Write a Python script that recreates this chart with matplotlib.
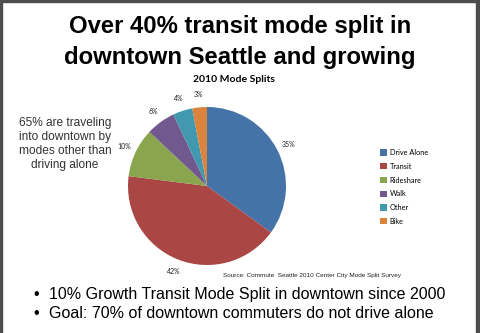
import matplotlib
matplotlib.use("Agg")
import matplotlib.pyplot as plt
from matplotlib.patches import Rectangle, Patch

modes = ["Drive Alone", "Transit", "Rideshare", "Walk", "Other", "Bike"]
shares = [35, 42, 10, 6, 4, 3]
colors = ["#4572A7", "#AA4643", "#89A54E", "#71588F", "#4198AF", "#DB843D"]

title_lines = ["Over 40% transit mode split in", "downtown Seattle and growing"]
chart_title = "2010 Mode Splits"
side_note = ["65% are traveling", "into downtown by", "modes other than", "driving alone"]
source = "Source: Commute  Seattle 2010 Center City Mode Split Survey"
bullets = ["10% Growth Transit Mode Split in downtown since 2000",
           "Goal: 70% of downtown commuters do not drive alone"]

W, H = 480, 333
fig = plt.figure(figsize=(W / 100, H / 100), dpi=100)
fig.patch.set_facecolor("white")

# slide frame (dark border on top, left, right)
frame = "#4d4d4d"
fig.patches.append(Rectangle((0, 1 - 2 / H), 1, 2 / H, transform=fig.transFigure, color=frame, zorder=10))
fig.patches.append(Rectangle((0, 0), 2 / W, 1, transform=fig.transFigure, color=frame, zorder=10))
fig.patches.append(Rectangle((1 - 4 / W, 0), 4 / W, 1, transform=fig.transFigure, color=frame, zorder=10))

arial = "Liberation Sans"
calibri = "Lato"

for i, line in enumerate(title_lines):
    fig.text(240 / W, 1 - (27 + 30.5 * i) / H, line, ha="center", va="center",
             fontsize=17.2, fontweight="bold", family=arial)
fig.text(234 / W, 1 - 80 / H, chart_title, ha="center", va="center", fontsize=7.5,
         fontweight="bold", family=calibri)

# pie
cx, cy, r = 207, 186, 79
ax = fig.add_axes([(cx - r) / W, (H - cy - r) / H, 2 * r / W, 2 * r / H])
wedges, _, pcts = ax.pie(shares, colors=colors, startangle=90, counterclock=False,
                         autopct="%d%%", pctdistance=1.16,
                         wedgeprops=dict(linewidth=0),
                         textprops=dict(fontsize=5, family=calibri, color="#222222"))
ax.set_xlim(-1, 1)
ax.set_ylim(-1, 1)
ax.set_aspect("equal")
ax.axis("off")

for i, line in enumerate(side_note):
    fig.text(65 / W, 1 - (123 + 14 * i) / H, line, ha="center", va="center",
             fontsize=8.6, family=arial, color="#333333")

handles = [Patch(facecolor=c, edgecolor="none") for c in colors]
fig.legend(handles, modes, loc="upper left", bbox_to_anchor=(380 / W, 1 - 149 / H),
           frameon=False, prop=dict(family=calibri, size=5.3),
           handlelength=0.9, handleheight=0.9, handletextpad=0.4, labelspacing=0.92,
           borderpad=0, borderaxespad=0)

fig.text(312 / W, 1 - 275 / H, source, ha="center", va="center", fontsize=4.6,
         family=arial, color="#222222")

for i, b in enumerate(bullets):
    y = 1 - (294 + 19.5 * i) / H
    fig.text(36 / W, y, "\u2022", ha="center", va="center", fontsize=11.5, family=arial)
    fig.text(49 / W, y, b, ha="left", va="center", fontsize=11.5, family=arial)

fig.savefig("out.png", dpi=100)
